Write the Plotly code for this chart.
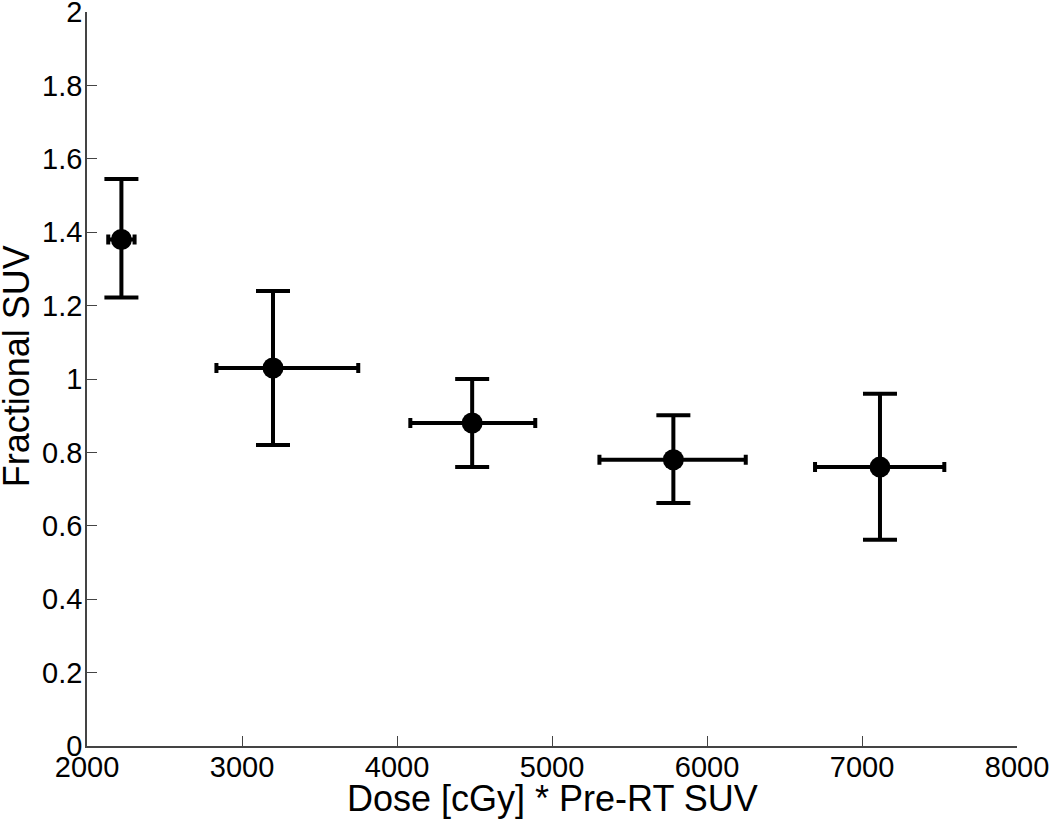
import plotly.graph_objects as go

dose = [2222, 3200, 4485, 5783, 7116]
frac_suv = [1.38, 1.03, 0.88, 0.78, 0.76]
y_err_plus = [0.165, 0.21, 0.12, 0.121, 0.20]
y_err_minus = [0.158, 0.21, 0.12, 0.118, 0.198]
x_err_plus = [85, 550, 407, 467, 415]
x_err_minus = [85, 365, 399, 477, 419]

x_ticks = [2000, 3000, 4000, 5000, 6000, 7000, 8000]
y_ticks = [0, 0.2, 0.4, 0.6, 0.8, 1, 1.2, 1.4, 1.6, 1.8, 2]
y_tick_text = ["0", "0.2", "0.4", "0.6", "0.8", "1", "1.2", "1.4", "1.6", "1.8", "2"]
x_title = "Dose [cGy] * Pre-RT SUV"
y_title = "Fractional SUV"

fig = go.Figure()
fig.add_trace(go.Scatter(
    x=dose, y=frac_suv, mode="markers",
    marker=dict(color="black", size=21, symbol="circle"),
    error_y=dict(type="data", symmetric=False, array=y_err_plus, arrayminus=y_err_minus,
                 color="black", thickness=4, width=17),
    error_x=dict(type="data", symmetric=False, array=x_err_plus, arrayminus=x_err_minus,
                 color="black", thickness=4, width=5),
    showlegend=False,
))

font_family = "Liberation Sans, Arial, sans-serif"
fig.update_layout(
    width=1050, height=821,
    margin=dict(l=87, r=33, t=12, b=75),
    paper_bgcolor="white", plot_bgcolor="white",
    font=dict(family=font_family, size=29, color="black"),
    xaxis=dict(range=[2000, 8000], tickvals=x_ticks, automargin=False,
               ticks="inside", ticklen=10, tickcolor="#444", showline=True, linecolor="#444",
               linewidth=1.5, showgrid=False, zeroline=False, ticklabeloverflow="allow",
               ticklabelstandoff=-6, tickfont=dict(size=29)),
    yaxis=dict(range=[0, 2], tickvals=y_ticks, ticktext=y_tick_text, automargin=False,
               ticks="inside", ticklen=10, tickcolor="#444", showline=True, linecolor="#444",
               linewidth=1.5, showgrid=False, zeroline=False, ticklabeloverflow="allow",
               ticklabelstandoff=-3, tickfont=dict(size=29)),
    annotations=[
        dict(text=x_title, xref="paper", yref="paper", x=0.5, y=-0.072,
             xanchor="center", yanchor="middle", showarrow=False, font=dict(size=36)),
        dict(text=y_title, xref="paper", yref="paper", x=-0.0755, y=0.517, textangle=-90,
             xanchor="center", yanchor="middle", showarrow=False, font=dict(size=36)),
    ],
)

fig.write_html("out.html", config={"displayModeBar": False},
               post_script="document.body.style.margin='0';")
